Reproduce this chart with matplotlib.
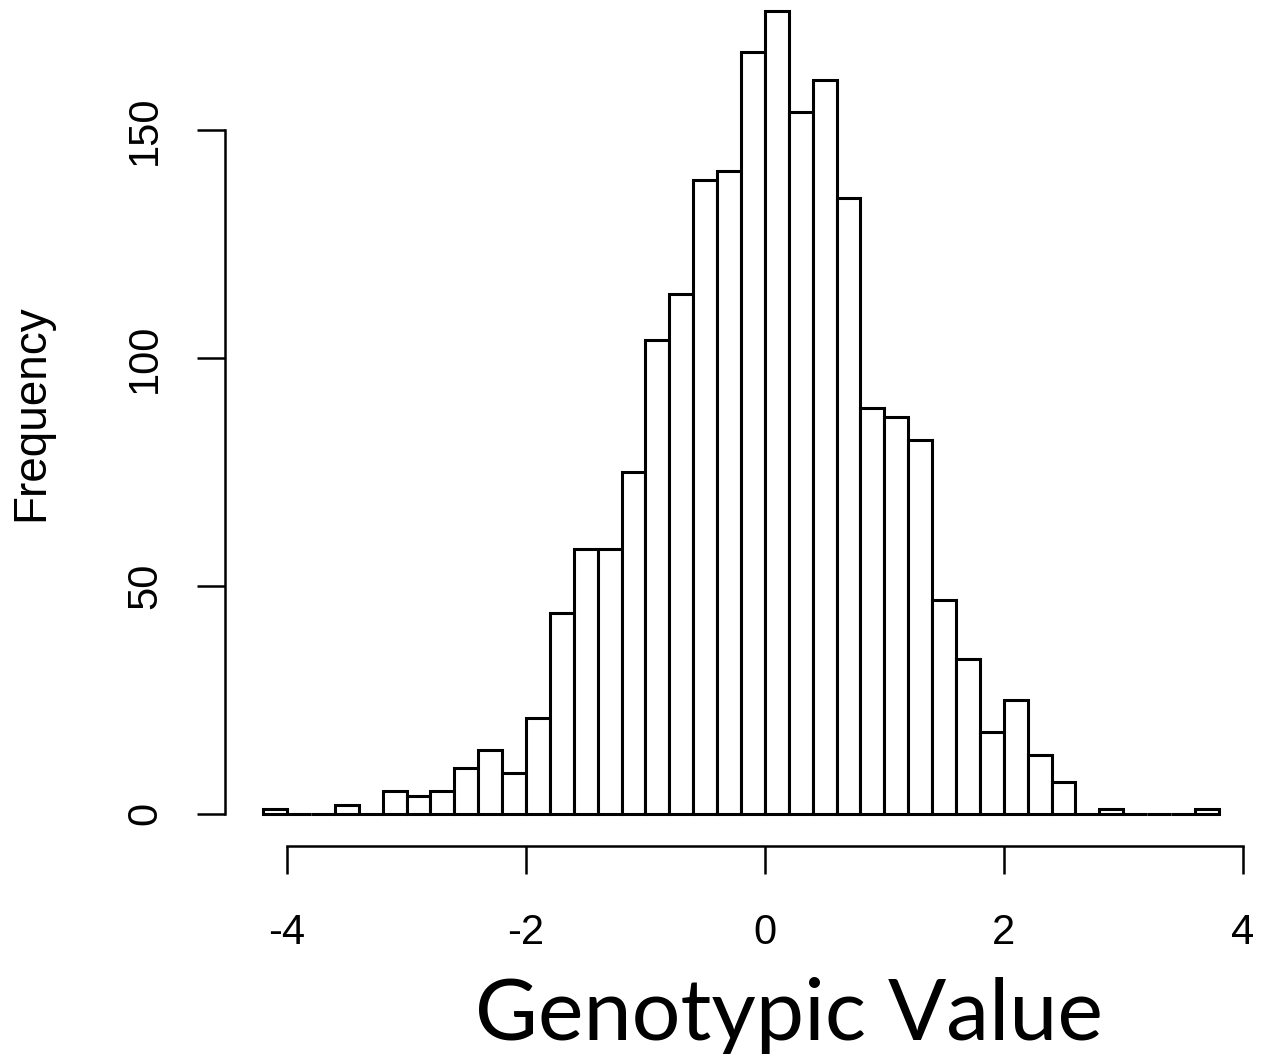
import matplotlib
matplotlib.use("Agg")
import matplotlib.pyplot as plt
import numpy as np

# Histogram data (bin width 0.2 from -4.2 to 3.8)
bin_edges = [round(-4.2 + 0.2 * i, 1) for i in range(41)]
counts = [1, 0, 0, 2, 0, 5, 4, 5, 10, 14,
          9, 21, 44, 58, 58, 75, 104, 114, 139, 141,
          167, 176, 154, 161, 135, 89, 87, 82, 47, 34,
          18, 25, 13, 7, 0, 1, 0, 0, 0, 1]
x_ticks = [-4, -2, 0, 2, 4]
y_ticks = [0, 50, 100, 150]

W, H = 1276, 1054
fig = plt.figure(figsize=(W / 100, H / 100), dpi=100)
fig.patch.set_facecolor("white")

left_px, right_px = 225, 1257
bottom_px, top_px = 846, -20.7
ax = fig.add_axes([left_px / W, (H - bottom_px) / H,
                   (right_px - left_px) / W, (bottom_px - top_px) / H])

lefts = np.array(bin_edges[:-1])
widths = np.diff(bin_edges)
ax.bar(lefts, counts, width=widths, align="edge", color="white",
       edgecolor="black", linewidth=2.2)

ax.set_xlim(-4.52, 4.12)
ax.set_ylim(-7.04, 183.04)

for s in ["top", "right"]:
    ax.spines[s].set_visible(False)
ax.spines["left"].set_bounds(0, 150)
ax.spines["bottom"].set_bounds(-4, 4)
for s in ["left", "bottom"]:
    ax.spines[s].set_linewidth(1.8)

ax.set_xticks(x_ticks)
ax.set_xticklabels([str(v) for v in x_ticks])
ax.set_yticks(y_ticks)
ax.set_yticklabels([str(v) for v in y_ticks])

ax.tick_params(axis="both", direction="out", length=20, width=1.8,
               labelsize=30, colors="black")
ax.tick_params(axis="x", pad=28)
ax.tick_params(axis="y", pad=23, labelrotation=90)
for lab in ax.get_xticklabels() + ax.get_yticklabels():
    lab.set_family(["Liberation Sans", "DejaVu Sans"])
for lab in ax.get_yticklabels():
    lab.set_verticalalignment("center")

ax.set_ylabel("Frequency", fontsize=33, family=["Liberation Sans", "DejaVu Sans"],
              labelpad=52)

fig.text(789 / W, (H - 1040) / H, "Genotypic Value", ha="center", va="baseline",
         fontsize=62, family=["Lato", "DejaVu Sans"], color="black")

fig.savefig("out.png", dpi=100, facecolor="white")
